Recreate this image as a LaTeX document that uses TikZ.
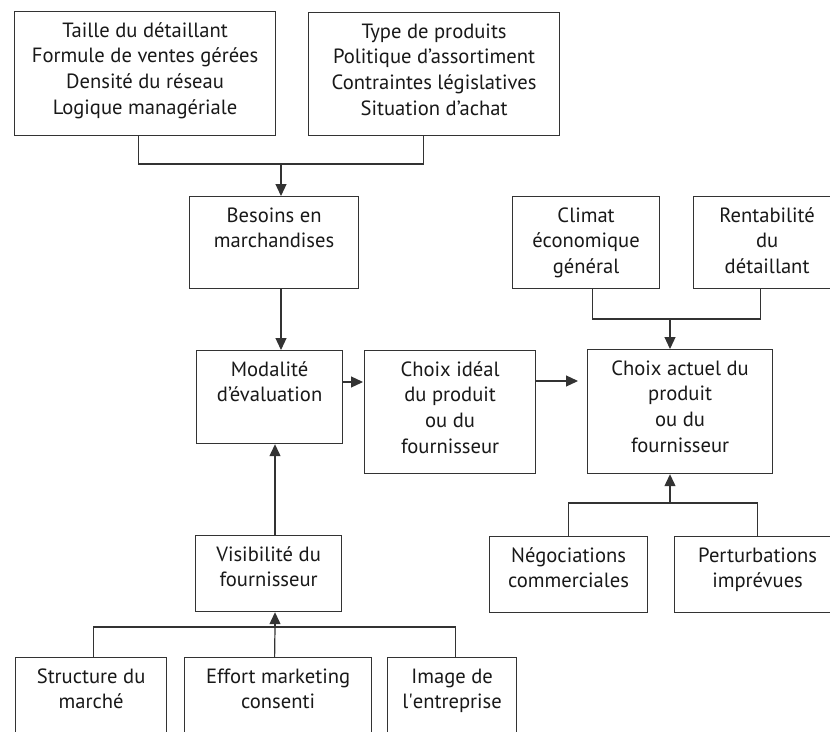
\documentclass[tikz,border=0pt]{standalone}
\usepackage{fontspec}
\setmainfont{PT Sans}
\usetikzlibrary{arrows.meta,calc}
\newcommand{\bx}[6]{%
  \node[boxst, minimum width={(#4-#2)*1pt}, minimum height={(#5-#3)*1pt}, anchor=north west] (#1) at (#2,#3) {};
  \node[txtst] (#1T) at ([yshift=-11pt]#1.north) {\rule{0pt}{15pt}#6};
}
\begin{document}
\begin{tikzpicture}[x=1pt,y=-1pt,
  boxst/.style={draw=black!80, line width=1.2pt, inner sep=0pt, fill=white},
  txtst/.style={anchor=north, inner sep=0pt, align=center, text=black!90, font={\fontsize{20.6}{25.7}\selectfont}},
  conn/.style={draw=black!80, line width=1.2pt},
  arr/.style={conn, -{Triangle[length=12pt,width=11pt]}}]
\useasboundingbox (0,0) rectangle (830,731);
\fill[white] (0,0) rectangle (830,731);
\begin{scope}
\clip (0,0) rectangle (830,731);
\bx{tai}{14}{11}{275}{135}{Taille du détaillant\\Formule de ventes gérées\\Densité du réseau\\Logique managériale}
\bx{typ}{308}{12}{559}{135}{Type de produits\\Politique d’assortiment\\Contraintes législatives\\Situation d’achat}
\bx{bes}{189}{196}{358}{288}{Besoins en\\marchandises}
\bx{mod}{196}{350}{342}{443}{Modalité\\d’évaluation}
\bx{ide}{364}{350}{535}{473}{Choix idéal\\du produit\\ou du\\fournisseur}
\bx{act}{587}{349}{772}{473}{Choix actuel du\\produit\\ou du\\fournisseur}
\bx{cli}{512}{196}{659}{288}{Climat\\économique\\général}
\bx{ren}{693}{196}{840}{288}{Rentabilité\\du\\détaillant}
\bx{neg}{489}{536}{647}{612}{Négociations\\commerciales}
\bx{per}{674}{536}{840}{612}{Perturbations\\imprévues}
\bx{vis}{195}{535}{341}{611}{Visibilité du\\fournisseur}
\bx{str}{15}{657}{166}{750}{Structure du\\marché}
\bx{eff}{184}{657}{371}{750}{Effort marketing\\consenti}
\bx{ima}{387}{657}{516}{750}{Image de\\l\textquotesingle entreprise}
% junctions
\coordinate (j1) at (281,164);
\coordinate (j2) at (670,319);
\coordinate (j3) at (670,503);
\coordinate (j4) at (275,627);
% top connectors
\draw[conn] ([xshift=-6.5pt]tai.south) |- (j1);
\draw[conn] ([xshift=-10.5pt]typ.south) |- (j1);
\draw[arr] (j1) -- (j1 |- bes.north);
\draw[arr] (bes.south -| j1) -- (mod.north -| j1);
\draw[arr] (mod.east |- 0,382) -- ([xshift=-1pt]ide.west |- 0,382);
\draw[arr] (ide.east |- 0,381) -- ([xshift=-9pt]act.west |- 0,381);
% right top
\draw[conn] ([xshift=6.5pt]cli.south) |- (j2);
\draw[conn] ([xshift=-6.5pt]ren.south) |- (j2);
\draw[arr] (j2) -- (j2 |- act.north);
% right bottom
\draw[conn] (neg.north) |- (j3);
\draw[conn] (per.north) |- (j3);
\draw[arr] (j3) -- (j3 |- act.south);
% left bottom
\draw[conn] ([xshift=2.5pt]str.north) |- (j4);
\draw[conn] ([xshift=3.5pt]ima.north) |- (j4);
\draw[conn] ([xshift=-3.5pt]eff.north) -- (j4);
\draw[arr] (j4) -- (j4 |- vis.south);
\draw[arr] (vis.north -| j4) -- (mod.south -| j4);
\end{scope}
\end{tikzpicture}
\end{document}
